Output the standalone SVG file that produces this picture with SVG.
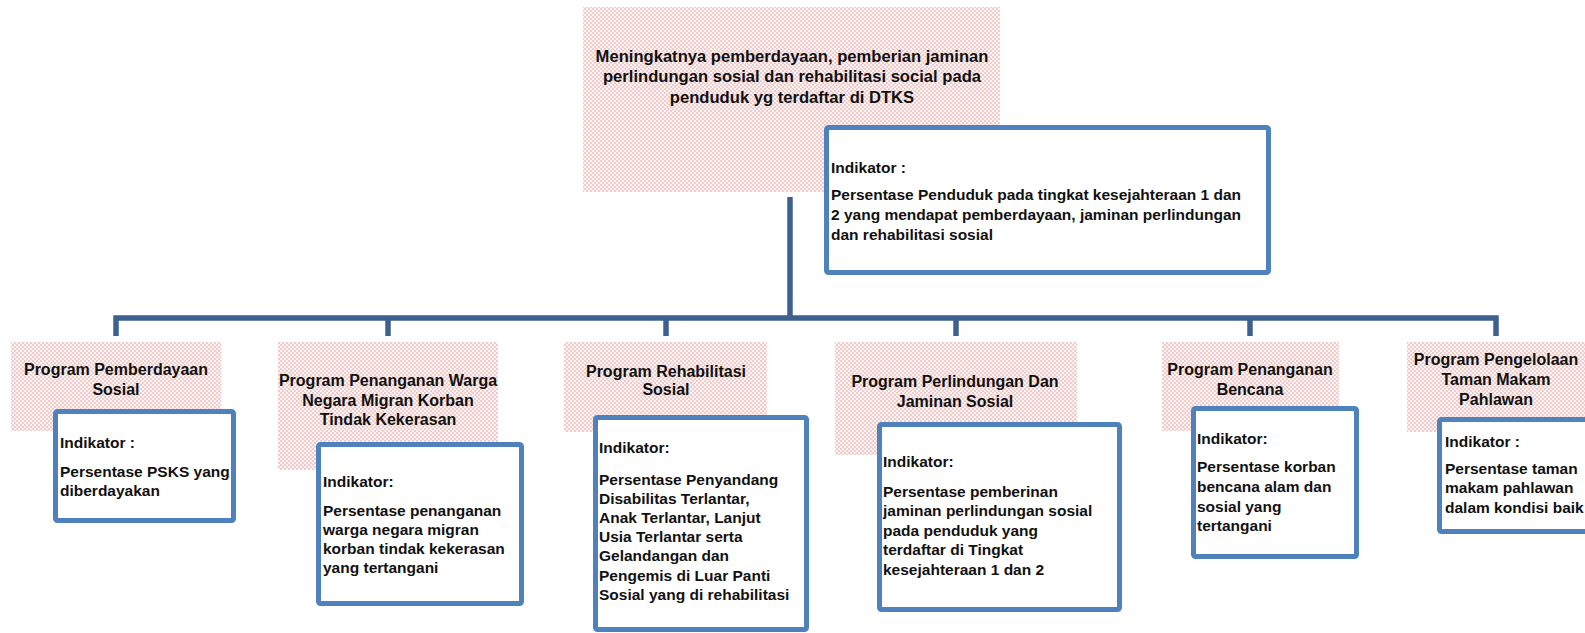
<svg xmlns="http://www.w3.org/2000/svg" width="1585" height="633" viewBox="0 0 1585 633">
<defs>
<pattern id="pink" x="0" y="0" width="4" height="4" patternUnits="userSpaceOnUse">
<rect width="4" height="4" fill="#fcf2f2"/>
<rect x="0" y="0" width="2" height="2" fill="#f0cdcd"/>
<rect x="2" y="2" width="2" height="2" fill="#f0cdcd"/>
</pattern>
<style>
.prog{fill:url(#pink);}
.ind{fill:#ffffff;stroke:#4f81bd;stroke-width:5;}
.conn{fill:none;stroke:#3c6190;stroke-width:5.5;stroke-linecap:butt;stroke-linejoin:miter;}
text{font-family:"Liberation Sans",Arial,sans-serif;font-weight:bold;font-size:15.5px;fill:#111111;}
.c{text-anchor:middle;font-size:16px;}
.t{font-size:16.6px;}
</style>
</defs>
<rect width="1585" height="633" fill="#ffffff"/>

<g id="connectors">
<path class="conn" d="M790,197 V318"/>
<path class="conn" d="M116,336 V318 H1496 V336"/>
<path class="conn" d="M388,318 V336"/>
<path class="conn" d="M666,318 V336"/>
<path class="conn" d="M956,318 V336"/>
<path class="conn" d="M1250,318 V336"/>
</g>

<g id="goal">
<rect class="prog" x="583" y="7" width="417" height="185"/>
<text class="c t" x="792" y="62">Meningkatnya pemberdayaan, pemberian jaminan</text>
<text class="c t" x="792" y="82">perlindungan sosial dan rehabilitasi social pada</text>
<text class="c t" x="792" y="103">penduduk yg terdaftar di DTKS</text>
</g>
<g id="goal-indicator">
<rect class="ind" x="826.5" y="127.5" width="442" height="145" rx="2"/>
<text x="831" y="173">Indikator :</text>
<text x="831" y="200">Persentase Penduduk pada tingkat kesejahteraan 1 dan</text>
<text x="831" y="220">2 yang mendapat pemberdayaan, jaminan perlindungan</text>
<text x="831" y="240">dan rehabilitasi sosial</text>
</g>

<g id="program-1">
<rect class="prog" x="11" y="342" width="210" height="89"/>
<text class="c" x="116" y="375">Program  Pemberdayaan</text>
<text class="c" x="116" y="395">Sosial</text>
</g>
<g id="indicator-1">
<rect class="ind" x="55.5" y="411.5" width="178" height="109" rx="2"/>
<text x="60" y="448">Indikator :</text>
<text x="60" y="477">Persentase PSKS yang</text>
<text x="60" y="496">diberdayakan</text>
</g>

<g id="program-2">
<rect class="prog" x="278" y="342" width="220" height="128"/>
<text class="c" x="388" y="386">Program  Penanganan Warga</text>
<text class="c" x="388" y="406">Negara Migran Korban</text>
<text class="c" x="388" y="425">Tindak Kekerasan</text>
</g>
<g id="indicator-2">
<rect class="ind" x="318.5" y="444.5" width="203" height="159" rx="2"/>
<text x="323" y="487">Indikator:</text>
<text x="323" y="516">Persentase penanganan</text>
<text x="323" y="535">warga negara migran</text>
<text x="323" y="554">korban tindak kekerasan</text>
<text x="323" y="573">yang tertangani</text>
</g>

<g id="program-3">
<rect class="prog" x="564" y="342" width="203" height="90"/>
<text class="c" x="666" y="377">Program  Rehabilitasi</text>
<text class="c" x="666" y="395">Sosial</text>
</g>
<g id="indicator-3">
<rect class="ind" x="595.5" y="417.5" width="211" height="212" rx="2"/>
<text x="599" y="453">Indikator:</text>
<text x="599" y="485">Persentase Penyandang</text>
<text x="599" y="504">Disabilitas Terlantar,</text>
<text x="599" y="523">Anak Terlantar, Lanjut</text>
<text x="599" y="542">Usia Terlantar serta</text>
<text x="599" y="561">Gelandangan dan</text>
<text x="599" y="581">Pengemis di Luar Panti</text>
<text x="599" y="600">Sosial yang di rehabilitasi</text>
</g>

<g id="program-4">
<rect class="prog" x="835" y="342" width="242" height="113"/>
<text class="c" x="955" y="387">Program  Perlindungan Dan</text>
<text class="c" x="955" y="407">Jaminan Sosial</text>
</g>
<g id="indicator-4">
<rect class="ind" x="879.5" y="424.5" width="240" height="185" rx="2"/>
<text x="883" y="467">Indikator:</text>
<text x="883" y="497">Persentase pemberinan</text>
<text x="883" y="516">jaminan perlindungan sosial</text>
<text x="883" y="536">pada penduduk yang</text>
<text x="883" y="555">terdaftar di Tingkat</text>
<text x="883" y="575">kesejahteraan 1 dan 2</text>
</g>

<g id="program-5">
<rect class="prog" x="1162" y="342" width="177" height="89"/>
<text class="c" x="1250" y="375">Program  Penanganan</text>
<text class="c" x="1250" y="395">Bencana</text>
</g>
<g id="indicator-5">
<rect class="ind" x="1193.5" y="408.5" width="163" height="148" rx="2"/>
<text x="1197" y="444">Indikator:</text>
<text x="1197" y="472">Persentase korban</text>
<text x="1197" y="492">bencana alam dan</text>
<text x="1197" y="512">sosial yang</text>
<text x="1197" y="531">tertangani</text>
</g>

<g id="program-6">
<rect class="prog" x="1407" y="342" width="190" height="90"/>
<text class="c" x="1496" y="365">Program  Pengelolaan</text>
<text class="c" x="1496" y="385">Taman Makam</text>
<text class="c" x="1496" y="405">Pahlawan</text>
</g>
<g id="indicator-6">
<rect class="ind" x="1439.5" y="419.5" width="160" height="112" rx="2"/>
<text x="1445" y="447">Indikator :</text>
<text x="1445" y="474">Persentase taman</text>
<text x="1445" y="493">makam pahlawan</text>
<text x="1445" y="513">dalam kondisi baik</text>
</g>
</svg>
